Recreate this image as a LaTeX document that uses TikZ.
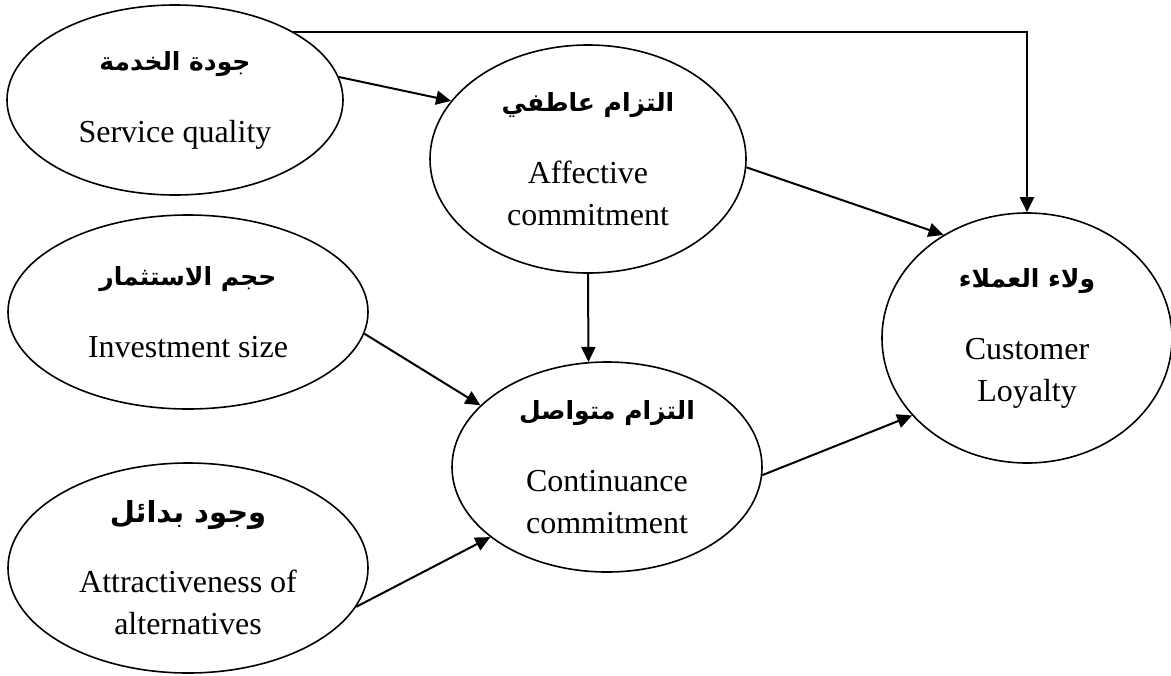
\documentclass[tikz,border=0pt]{standalone}
\usepackage{fontspec}
\setmainfont{Liberation Serif}
\newfontfamily\arabicfont[Script=Arabic]{DejaVu Sans}
\TeXXeTstate=1
\usetikzlibrary{shapes.geometric,arrows.meta}
% bold Arabic heading inside a construct
\newcommand{\artxt}[1]{{\arabicfont\bfseries\fontsize{12.5}{21}\selectfont\beginR #1\endR}}
\tikzset{
  construct/.style={ellipse,draw,line width=0.8pt,inner sep=0pt,align=center,
    font=\fontsize{16}{21}\selectfont},
  path/.style={line width=1pt,-{Triangle[length=7.5pt,width=7pt]}}
}

\begin{document}
\begin{tikzpicture}[x=0.5pt,y=-0.5pt]
  \useasboundingbox (0,0) rectangle (1171,675);
  % exogenous constructs
  \node[construct,minimum width=168pt,minimum height=95pt](sq)at(175,100)
       {\artxt{جودة الخدمة}\\[15pt]Service quality};
  \node[construct,minimum width=180pt,minimum height=97pt](is)at(188,312)
       {\artxt{حجم الاستثمار}\\[15pt]Investment size};
  \node[construct,minimum width=180pt,minimum height=105pt](aa)at(188,568)
       {{\arabicfont\bfseries\fontsize{14.5}{21}\selectfont\beginR وجود بدائل\endR}\\[14pt]Attractiveness of\\alternatives};
  % mediators
  \node[construct,minimum width=158pt,minimum height=114pt](ac)at(588,159)
       {\artxt{التزام عاطفي}\\[15pt]Affective\\commitment};
  \node[construct,minimum width=155pt,minimum height=105pt](cc)at(607,467)
       {\artxt{التزام متواصل}\\[15pt]Continuance\\commitment};
  % outcome
  \node[construct,minimum width=145pt,minimum height=125pt](cl)at(1027,338)
       {\artxt{ولاء العملاء}\\[15pt]Customer\\Loyalty};

  \draw[path] (sq.30) -| (cl.north);
  \draw[path] (sq.8) -- (ac.157);
  \draw[path] (ac.-3) -- (cl.129);
  \draw[path] (ac.south) -- (cc.100);
  \draw[path] (is.-7) -- (cc.154);
  \draw[path] (aa.-13) -- (cc.211);
  \draw[path] (cc.-3) -- (cl.214);
\end{tikzpicture}
\end{document}
